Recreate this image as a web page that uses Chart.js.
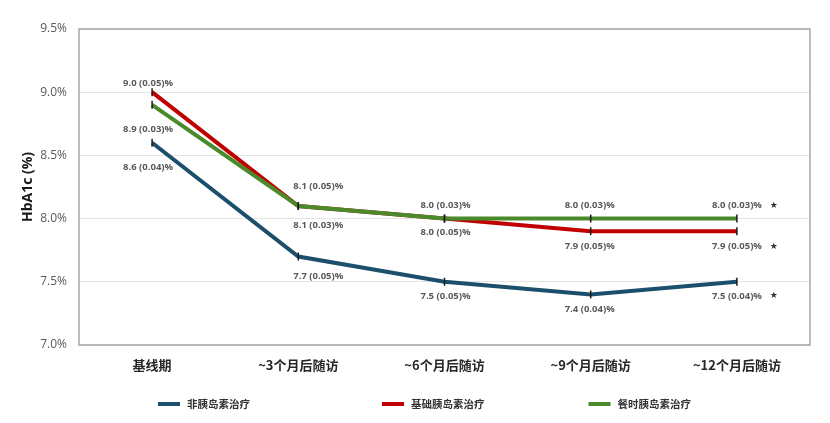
<!DOCTYPE html>
<html>
<head>
<meta charset="utf-8">
<script src="https://cdn.jsdelivr.net/npm/chart.js@4.4.1/dist/chart.umd.min.js"></script>
<style>
  html, body { margin: 0; padding: 0; background: #fff; }
  #wrap { width: 830px; height: 423px; }
</style>
</head>
<body>
<div id="wrap"><canvas id="c" width="830" height="423"></canvas></div>
<script>
// ---- data ----
const categories = ['基线期', '~3个月后随访', '~6个月后随访', '~9个月后随访', '~12个月后随访'];
const seriesNames = ['非胰岛素治疗', '基础胰岛素治疗', '餐时胰岛素治疗'];
const nonInsulin = [8.6, 7.7, 7.5, 7.4, 7.5];
const nonInsulinSE = [0.04, 0.05, 0.05, 0.04, 0.04];
const basalInsulin = [9.0, 8.1, 8.0, 7.9, 7.9];
const basalInsulinSE = [0.05, 0.05, 0.05, 0.05, 0.05];
const mealInsulin = [8.9, 8.1, 8.0, 8.0, 8.0];
const mealInsulinSE = [0.03, 0.03, 0.03, 0.03, 0.03];
const yTicks = [7.0, 7.5, 8.0, 8.5, 9.0, 9.5];
const starred = [false, false, false, false, true]; // significance marks at last visit

// ---- styling (label offsets in px, negative = above) ----
const colors = ['#1B4F6B', '#C00000', '#4A8A2A'];
const drawOrder = [2, 1, 0]; // green on top, then red, then blue
const labelOffsets = [
  [25, 20, 14, 15, 14],
  [-9, -20, 14, 15, 15],
  [24, 19, -13, -13, -13]
];
const labelShiftX = [-4, 20, 1, -1, 0];

const seriesValues = [nonInsulin, basalInsulin, mealInsulin];
const seriesSE = [nonInsulinSE, basalInsulinSE, mealInsulinSE];

const annotatePlugin = {
  id: 'annotate',
  beforeDatasetsDraw(chart) {
    const { ctx, chartArea: a } = chart;
    ctx.save();
    ctx.strokeStyle = '#A6A6A6';
    ctx.lineWidth = 1.5;
    ctx.strokeRect(a.left, a.top, a.right - a.left, a.bottom - a.top);
    ctx.restore();
  },
  afterDatasetsDraw(chart) {
    const { ctx } = chart;
    const xs = chart.scales.x, ys = chart.scales.y;
    ctx.save();
    // point tick markers
    seriesValues.forEach((vals, s) => {
      vals.forEach((v, i) => {
        const x = xs.getPixelForValue(i);
        const y = ys.getPixelForValue(v);
        ctx.beginPath();
        ctx.strokeStyle = '#1a1a1a';
        ctx.lineWidth = 1.5;
        ctx.moveTo(x, y - 4);
        ctx.lineTo(x, y + 4);
        ctx.stroke();
      });
    });
    // value labels
    ctx.font = 'bold 9.5px "Open Sans", sans-serif';
    ctx.fillStyle = '#595959';
    ctx.textAlign = 'center';
    ctx.textBaseline = 'middle';
    seriesValues.forEach((vals, s) => {
      vals.forEach((v, i) => {
        const x = xs.getPixelForValue(i) + labelShiftX[i];
        const y = ys.getPixelForValue(v) + labelOffsets[s][i];
        const txt = v.toFixed(1) + ' (' + seriesSE[s][i].toFixed(2) + ')%';
        ctx.fillText(txt, x, y);
        if (starred[i]) {
          ctx.save();
          ctx.font = '9px "DejaVu Sans", sans-serif';
          ctx.fillStyle = '#333';
          ctx.fillText('★', x + 37, y);
          ctx.restore();
        }
      });
    });
    ctx.restore();
  },
  afterDraw(chart) {
    // legend row below the axis
    const { ctx } = chart;
    ctx.save();
    ctx.font = 'bold 10.5px "Noto Sans CJK SC", sans-serif';
    const boxW = 22, boxH = 4, textGap = 7, gaps = [132, 104];
    let x = 158;
    const y = 404;
    ctx.textBaseline = 'middle';
    ctx.textAlign = 'left';
    seriesNames.forEach((n, s) => {
      ctx.fillStyle = colors[s];
      ctx.fillRect(x, y - boxH / 2, boxW, boxH);
      ctx.fillStyle = '#333333';
      ctx.fillText(n, x + boxW + textGap, y);
      x += boxW + textGap + ctx.measureText(n).width + (gaps[s] || 0);
    });
    ctx.restore();
  }
};

new Chart(document.getElementById('c'), {
  type: 'line',
  data: {
    labels: categories,
    datasets: seriesNames.map((n, s) => ({
      label: n,
      data: seriesValues[s],
      order: drawOrder[s],
      borderColor: colors[s],
      backgroundColor: colors[s],
      borderWidth: 4,
      pointRadius: 0,
      tension: 0,
      fill: false
    }))
  },
  options: {
    responsive: false,
    animation: false,
    devicePixelRatio: 1,
    layout: { padding: { top: 29, right: 20, left: 20, bottom: 38 } },
    plugins: {
      tooltip: { enabled: false },
      legend: { display: false }
    },
    scales: {
      x: {
        offset: true,
        grid: { display: false, drawTicks: false },
        border: { display: false },
        ticks: {
          padding: 12,
          color: '#262626',
          font: { family: '"Noto Sans CJK SC", sans-serif', size: 13, weight: 'bold' }
        },
        afterFit(s) { s.height = 40; }
      },
      y: {
        min: yTicks[0],
        max: yTicks[yTicks.length - 1],
        afterBuildTicks(s) { s.ticks = yTicks.map(v => ({ value: v })); },
        grid: { color: '#E4E4E4', lineWidth: 1, drawTicks: false },
        border: { display: false },
        ticks: {
          padding: 12,
          color: '#595959',
          font: { family: '"Open Sans", sans-serif', size: 12 },
          callback: v => Number(v).toFixed(1) + '%'
        },
        title: {
          display: true,
          text: 'HbA1c (%)',
          color: '#1a1a1a',
          font: { family: '"Open Sans", sans-serif', size: 14, weight: 'bold' },
          padding: { top: 0, bottom: 10 }
        },
        afterFit(s) { s.width = 59; }
      }
    }
  },
  plugins: [annotatePlugin]
});
</script>
</body>
</html>
